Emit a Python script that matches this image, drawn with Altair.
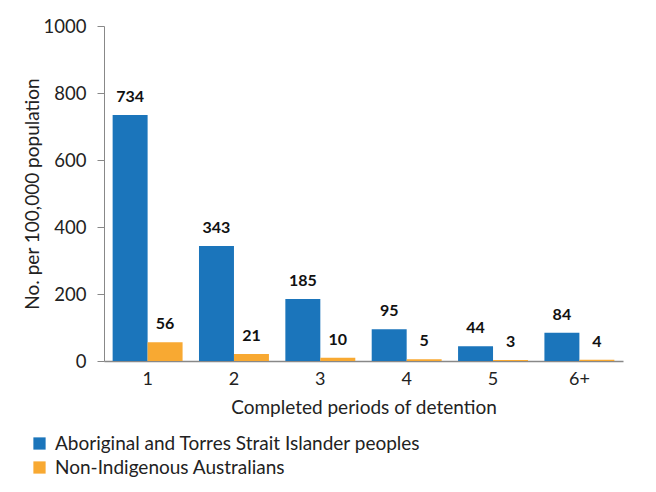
import altair as alt
import pandas as pd

categories = ["1", "2", "3", "4", "5", "6+"]
series = ["Aboriginal and Torres Strait Islander peoples", "Non-Indigenous Australians"]
indigenous = [734, 343, 185, 95, 44, 84]
non_indigenous = [56, 21, 10, 5, 3, 4]
colors = ["#1b75bb", "#f8a932"]

rows = []
for c, a, b in zip(categories, indigenous, non_indigenous):
    rows.append({"period": c, "group": series[0], "value": a})
    rows.append({"period": c, "group": series[1], "value": b})
df = pd.DataFrame(rows)

FONT = "Lato"

x = alt.X("period:N", sort=categories,
          scale=alt.Scale(paddingInner=0.19, paddingOuter=0.1),
          axis=alt.Axis(title="Completed periods of detention", labelAngle=0,
                        ticks=False, labelPadding=9, titlePadding=10,
                        labelFontSize=18, titleFontSize=19,
                        labelColor="#222", titleColor="#222",
                        domainColor="#888", labelFont=FONT, titleFont=FONT,
                        titleFontWeight="normal"))
y = alt.Y("value:Q", scale=alt.Scale(domain=[0, 1000]),
          axis=alt.Axis(title="No. per 100,000 population", values=[0, 200, 400, 600, 800, 1000],
                        format="d",
                        grid=False, tickSize=7, tickColor="#888", domainColor="#888",
                        labelFontSize=18.5, titleFontSize=19, labelColor="#222",
                        titleColor="#222", labelPadding=11, titlePadding=1,
                        labelFont=FONT, titleFont=FONT, titleFontWeight="normal"))
xoff = alt.XOffset("group:N", sort=series)
color = alt.Color("group:N", sort=series,
                  scale=alt.Scale(domain=series, range=colors),
                  legend=alt.Legend(title=None, orient="none", legendX=-74, legendY=408,
                                    symbolType="square", symbolSize=150,
                                    symbolStrokeWidth=0, labelFontSize=19,
                                    labelFont=FONT, labelColor="#222", rowPadding=4,
                                    labelOffset=6, labelLimit=600))

bars = alt.Chart(df).mark_bar().encode(x=x, y=y, xOffset=xoff, color=color)
text = alt.Chart(df).mark_text(baseline="bottom", dy=-10, fontSize=16, fontWeight="bold",
                               font=FONT, color="#111").encode(
    x=x, y=y, xOffset=xoff, text="value:Q")

chart = alt.layer(bars, text).properties(
    width=519, height=335,
    autosize=alt.AutoSizeParams(type="none"),
    padding={"left": 96, "top": 18, "right": 20, "bottom": 120},
).configure_view(stroke=None).configure_axisX(domainWidth=1.5)

chart.save("out.html", embed_options={"renderer": "svg", "actions": False})
